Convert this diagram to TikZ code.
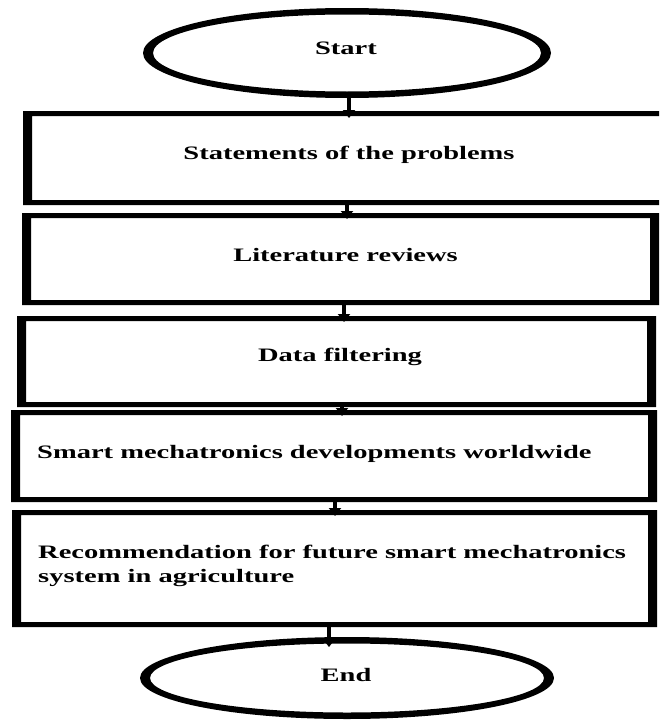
\documentclass[tikz,border=0pt]{standalone}
\usepackage{fontspec}
\setmainfont{Liberation Serif}[FakeStretch=1.5]
\usetikzlibrary{arrows.meta,shapes.geometric}
\tikzset{
  stepbox/.style={rectangle, inner sep=0pt, outer sep=0pt,
    path picture={\fill[black,even odd rule]
      (path picture bounding box.south west) rectangle (path picture bounding box.north east)
      ([shift={(9pt,5pt)}]path picture bounding box.south west) rectangle ([shift={(-9pt,-5pt)}]path picture bounding box.north east);}},
  ringellipse/.style 2 args={ellipse, inner sep=0pt, outer sep=0pt,
    minimum width=#1, minimum height=#2,
    path picture={\fill[black,even odd rule]
      (path picture bounding box.south west) rectangle (path picture bounding box.north east)
      (path picture bounding box.center) ellipse [x radius={#1/2-10pt}, y radius={#2/2-6.5pt}];}},
  lbl/.style={inner sep=0pt, font=\bfseries\fontsize{19}{24}\selectfont},
  conn/.style={line width=4pt, -{Triangle[width=12pt,length=8pt]}},
}
\begin{document}
\begin{tikzpicture}[x=1pt,y=-1pt]
\useasboundingbox (0,0) rectangle (659,720);
\clip (0,0) rectangle (659,720);
\fill[white] (0,0) rectangle (659,720);

\node[ringellipse={408pt}{90pt}] (start) at (347,53) {};
\node[stepbox, minimum width=677pt, minimum height=94pt] (b1) at (361.5,158) {};
\node[stepbox, minimum width=637pt, minimum height=92pt] (b2) at (340.5,259) {};
\node[stepbox, minimum width=639pt, minimum height=91pt] (b3) at (336.5,361.5) {};
\node[stepbox, minimum width=646pt, minimum height=92pt] (b4) at (334,456) {};
\node[stepbox, minimum width=645pt, minimum height=117pt] (b5) at (334.5,568.5) {};
\node[ringellipse={414pt}{82pt}] (end) at (347,678) {};

\node[lbl, anchor=base] (tstart) at (346,54) {Start};
\node[lbl, anchor=base] (t1) at (349,159) {Statements of the problems};
\node[lbl, anchor=base] (t2) at (345.5,261) {Literature reviews};
\node[lbl, anchor=base] (t3) at (340,361) {Data filtering};
\node[lbl, anchor=base west] (t4) at (37,458) {Smart mechatronics developments worldwide};
\node[lbl, anchor=base west, align=left] (t5) at (38,582) {Recommendation for future smart mechatronics\\system in agriculture};
\node[lbl, anchor=base] (tend) at (346,681) {End};

\draw[conn] ([xshift=2pt]start.south) -- ([xshift=-12.5pt,yshift=-7pt]b1.north);
\draw[conn] ([xshift=-14.5pt]b1.south) -- ([xshift=6.5pt,yshift=-6pt]b2.north);
\draw[conn] ([xshift=3.5pt]b2.south) -- ([xshift=7.5pt,yshift=-6pt]b3.north);
\draw[conn] ([xshift=5.5pt]b3.south) -- ([xshift=8pt,yshift=-6pt]b4.north);
\draw[conn] ([xshift=1pt]b4.south) -- ([xshift=0.5pt,yshift=-6pt]b5.north);
\draw[conn] ([xshift=-5.5pt]b5.south) -- ([xshift=-18pt,yshift=-10pt]end.north);
\end{tikzpicture}
\end{document}
